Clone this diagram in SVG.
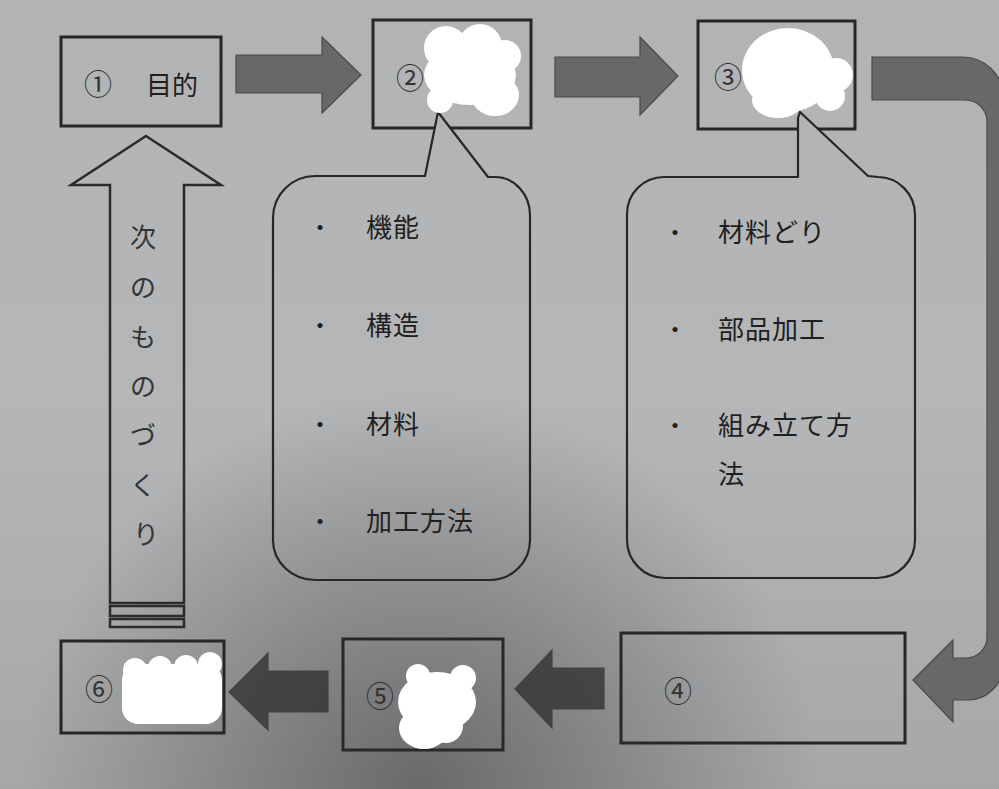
<svg xmlns="http://www.w3.org/2000/svg" width="999" height="789" viewBox="0 0 999 789">
<defs>
  <linearGradient id="bg" gradientUnits="userSpaceOnUse" x1="0" y1="0" x2="0" y2="789">
    <stop offset="0" stop-color="#b2b3b5"/>
    <stop offset="0.5" stop-color="#b5b6b8"/>
    <stop offset="1" stop-color="#a6a7a9"/>
  </linearGradient>
  <radialGradient id="shade" gradientUnits="userSpaceOnUse" cx="420" cy="790" r="400">
    <stop offset="0" stop-color="#2c2c2c" stop-opacity="0.5"/>
    <stop offset="0.45" stop-color="#2c2c2c" stop-opacity="0.28"/>
    <stop offset="1" stop-color="#2c2c2c" stop-opacity="0"/>
  </radialGradient>
  <style>
    .box{fill:none;stroke:#262626;stroke-width:3}
    .callout{fill:url(#bg);stroke:#262626;stroke-width:2.2;stroke-linejoin:round}
    .arrow{fill:#686868;stroke:#4a4a4a;stroke-width:1.2}
    .arrow.dark{fill:#4c4c4c}
    .hollow{fill:url(#bg);stroke:#2b2b2b;stroke-width:2.5;stroke-linejoin:miter}
    text{font-family:"Noto Sans CJK JP","Noto Sans CJK SC",sans-serif;fill:#1f1f1f}
    .lbl{font-size:26px;dominant-baseline:central}
    .num{font-size:28px;text-anchor:middle;dominant-baseline:central;fill:#333}
    .item{font-size:26px;letter-spacing:1px;dominant-baseline:central}
    .bul{font-size:24px;text-anchor:middle;dominant-baseline:central}
    .vert{font-size:26px;text-anchor:middle;dominant-baseline:central;fill:#353535}
    .blob{fill:#ffffff}
  </style>
</defs>

<rect x="0" y="0" width="999" height="789" fill="url(#bg)"/>

<g id="connectors">
  <path class="arrow" d="M236 55 L322 55 L322 37 L361 75 L322 113 L322 93 L236 93 Z"/>
  <path class="arrow" d="M555 57 L640 57 L640 37 L678 76 L640 115 L640 97 L555 97 Z"/>
  <path class="arrow" d="M872 57 L963 57 A40 40 0 0 1 1003 97 L1003 665 A35 35 0 0 1 968 700 L953 700 L953 722 L913 680 L953 640 L953 658 L966 658 A21 21 0 0 0 987 637 L987 122 A22 22 0 0 0 965 100 L872 100 Z"/>
  <path class="arrow dark" d="M604 668 L552 668 L552 650 L515 689 L552 728 L552 709 L604 709 Z"/>
  <path class="arrow dark" d="M328 671 L268 671 L268 653 L229 692 L268 730 L268 712 L328 712 Z"/>
  <g id="next-arrow">
    <path class="hollow" d="M146 136 L221 185 L184 185 L184 603 L110 603 L110 185 L71 185 Z"/>
    <rect class="hollow" x="110" y="606" width="74" height="10"/>
    <rect class="hollow" x="110" y="619" width="74" height="8"/>
    <text class="vert">
      <tspan x="146" y="235">次</tspan>
      <tspan x="146" y="285">の</tspan>
      <tspan x="146" y="335">も</tspan>
      <tspan x="146" y="384">の</tspan>
      <tspan x="146" y="433">づ</tspan>
      <tspan x="146" y="483">く</tspan>
      <tspan x="146" y="532">り</tspan>
    </text>
  </g>
</g>

<g id="node1">
  <rect class="box" x="61" y="37" width="160" height="89"/>
  <text class="num" x="98" y="83">①</text>
  <text class="lbl" x="146" y="83">目的</text>
</g>

<g id="node2">
  <rect class="box" x="373" y="20" width="158" height="108"/>
  <text class="num" x="410" y="77">②</text>
</g>

<g id="node3">
  <rect class="box" x="698" y="21" width="157" height="108"/>
  <text class="num" x="728" y="76">③</text>
</g>

<g id="node4">
  <rect class="box" x="621" y="633" width="284" height="110"/>
  <text class="num" x="678" y="690">④</text>
</g>

<g id="node5">
  <rect class="box" x="343" y="639" width="160" height="111"/>
  <text class="num" x="380" y="695">⑤</text>
</g>

<g id="node6">
  <rect class="box" x="61" y="641" width="163" height="92"/>
  <text class="num" x="99" y="688">⑥</text>
</g>

<g id="callout2">
  <path class="callout" d="M438 112 L488 177 L495 177 A35 38 0 0 1 530 215 L530 540 A40 40 0 0 1 490 580 L315 580 A42 40 0 0 1 273 540 L273 218 A42 42 0 0 1 315 176 L425 176 Z"/>
  <text class="bul" x="320" y="225">・</text>
  <text class="item" x="366" y="225">機能</text>
  <text class="bul" x="320" y="323">・</text>
  <text class="item" x="366" y="323">構造</text>
  <text class="bul" x="320" y="422">・</text>
  <text class="item" x="366" y="422">材料</text>
  <text class="bul" x="320" y="519">・</text>
  <text class="item" x="366" y="519">加工方法</text>
</g>

<g id="callout3">
  <path class="callout" d="M800 112 L868 176 L878 177 A37 38 0 0 1 915 215 L915 540 A38 38 0 0 1 877 578 L665 578 A38 38 0 0 1 627 540 L627 214 A37 37 0 0 1 664 177 L798 177 L798 118 Z"/>
  <text class="bul" x="675" y="230">・</text>
  <text class="item" x="718" y="230">材料どり</text>
  <text class="bul" x="675" y="327">・</text>
  <text class="item" x="718" y="327">部品加工</text>
  <text class="bul" x="675" y="423">・</text>
  <text class="item"><tspan x="718" y="423">組み立て方</tspan><tspan x="718" y="472">法</tspan></text>
</g>

<rect x="0" y="0" width="999" height="789" fill="url(#shade)" pointer-events="none"/>

<g id="redactions">
  <g class="blob">
    <circle cx="446" cy="48" r="22"/>
    <circle cx="480" cy="46" r="22"/>
    <circle cx="505" cy="56" r="16"/>
    <ellipse cx="470" cy="75" rx="46" ry="30"/>
    <circle cx="440" cy="100" r="13"/>
    <ellipse cx="495" cy="95" rx="24" ry="21"/>
  </g>
  <g class="blob">
    <ellipse cx="788" cy="70" rx="46" ry="42"/>
    <circle cx="836" cy="75" r="17"/>
    <circle cx="830" cy="96" r="15"/>
    <ellipse cx="778" cy="100" rx="26" ry="18"/>
  </g>
  <g class="blob">
    <rect x="122" y="664" width="100" height="60" rx="16"/>
    <circle cx="135" cy="670" r="12"/>
    <circle cx="160" cy="668" r="12"/>
    <circle cx="186" cy="667" r="12"/>
    <circle cx="210" cy="664" r="12"/>
  </g>
  <g class="blob">
    <circle cx="418" cy="676" r="12"/>
    <circle cx="463" cy="678" r="13"/>
    <ellipse cx="437" cy="702" rx="39" ry="30"/>
    <ellipse cx="424" cy="728" rx="25" ry="21"/>
    <circle cx="446" cy="726" r="17"/>
  </g>
</g>
</svg>
